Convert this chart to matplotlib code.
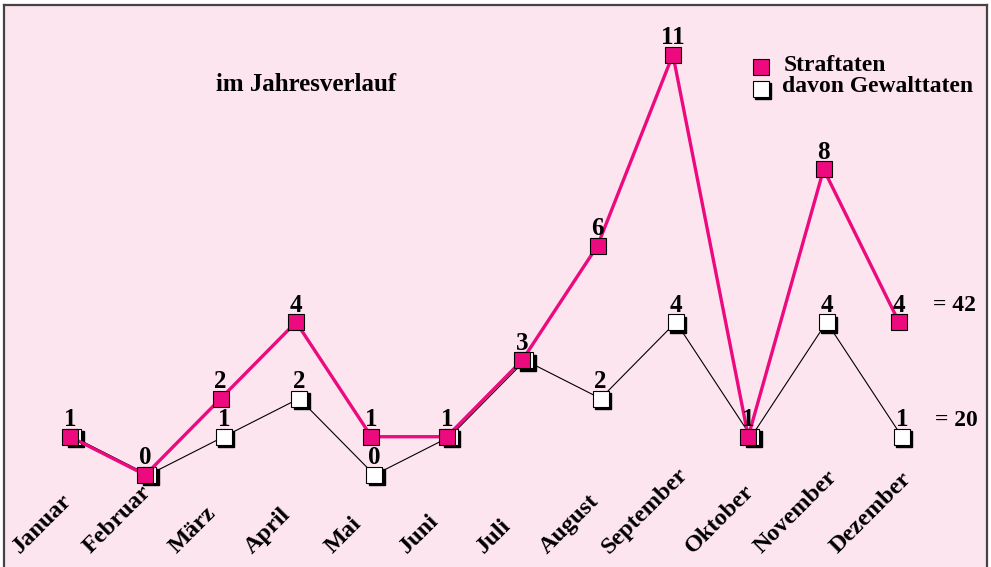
import numpy as np
import matplotlib
matplotlib.use("Agg")
import matplotlib.pyplot as plt
from matplotlib.transforms import offset_copy

months = ["Januar", "Februar", "März", "April", "Mai", "Juni", "Juli",
          "August", "September", "Oktober", "November", "Dezember"]
straftaten = [1, 0, 2, 4, 1, 1, 3, 6, 11, 1, 8, 4]
gewalttaten = [1, 0, 1, 2, 0, 1, 3, 2, 4, 1, 4, 1]

pink = "#EC0A7E"
bg = "#FDE5F0"
plt.rcParams["font.family"] = ["Liberation Serif", "DejaVu Serif"]
plt.rcParams["font.weight"] = "bold"

fig = plt.figure(figsize=(9.91, 5.67), dpi=100)
fig.patch.set_facecolor("white")
ax = fig.add_axes([4 / 991, 0, 983 / 991, 1 - 5 / 567])
ax.set_facecolor(bg)

x = np.arange(len(months))
xw = x + 0.04  # white series sits slightly to the right

ax.set_xlim(-0.876, 12.168)
ax.set_ylim(-2.41, 12.30)
ax.set_xticks([])
ax.set_yticks([])
for s in ["top", "left", "right"]:
    ax.spines[s].set_linewidth(1.6)
    ax.spines[s].set_color("#444444")
ax.spines["bottom"].set_visible(False)

ms = 11.2
# shadow transform for the "3d" white squares
shadow = offset_copy(ax.transData, fig=fig, x=2.5, y=-2.5, units="dots")

# davon Gewalttaten
ax.plot(xw, gewalttaten, color="black", lw=0.8, zorder=1)
ax.plot(xw, gewalttaten, ls="none", marker="s", ms=ms, color="black",
        transform=shadow, zorder=2)
ax.plot(xw, gewalttaten, ls="none", marker="s", ms=ms, mfc="white",
        mec="black", mew=0.8, zorder=2.5)

# Straftaten
ax.plot(x, straftaten, color=pink, lw=2.4, zorder=3)
ax.plot(x, straftaten, ls="none", marker="s", ms=ms, mfc=pink,
        mec="black", mew=0.8, zorder=4)

# value labels
for xi, v in zip(x, straftaten):
    ax.annotate(str(v), (xi, v), xytext=(0, 4), textcoords="offset points",
                ha="center", va="bottom", fontsize=18, fontweight="bold", zorder=5)
for xi, v, s in zip(xw, gewalttaten, straftaten):
    if v != s:
        ax.annotate(str(v), (xi, v), xytext=(0, 4), textcoords="offset points",
                    ha="center", va="bottom", fontsize=18, fontweight="bold", zorder=5)

# totals
ax.annotate("= %d" % sum(straftaten), (x[-1] + 0.74, straftaten[-1] + 0.15),
            ha="center", va="bottom", fontsize=17, fontweight="bold")
ax.annotate("= %d" % sum(gewalttaten), (x[-1] + 0.76, gewalttaten[-1] + 0.15),
            ha="center", va="bottom", fontsize=17, fontweight="bold")

# month labels
for xi, m in zip(x, months):
    ax.text(xi - 0.37, -2.17, m, rotation=45, ha="center", va="bottom",
            fontsize=17.5, fontweight="bold")

# title
ax.text(0.307, 0.858, "im Jahresverlauf", transform=ax.transAxes,
        ha="center", va="center", fontsize=18, fontweight="bold")

# legend
lsh = offset_copy(ax.transAxes, fig=fig, x=2.5, y=-2.5, units="dots")
ax.plot([0.770], [0.890], marker="s", ms=ms, mfc=pink, mec="black",
        mew=0.8, transform=ax.transAxes)
ax.plot([0.770], [0.851], marker="s", ms=ms, color="black", transform=lsh)
ax.plot([0.770], [0.851], marker="s", ms=ms, mfc="white", mec="black",
        mew=0.8, transform=ax.transAxes)
ax.text(0.793, 0.893, "Straftaten", transform=ax.transAxes, ha="left",
        va="center", fontsize=17, fontweight="bold")
ax.text(0.791, 0.855, "davon Gewalttaten", transform=ax.transAxes, ha="left",
        va="center", fontsize=17, fontweight="bold")

fig.savefig("out.png", dpi=100, facecolor=fig.get_facecolor())
